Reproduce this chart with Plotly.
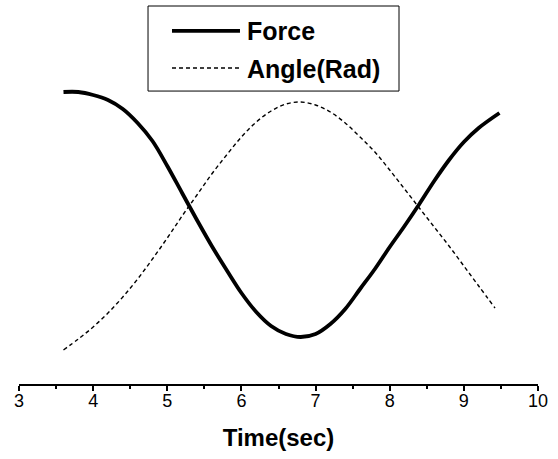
import plotly.graph_objects as go

# Data (arbitrary y units; no y axis shown)
force_time = [3.60, 3.80, 4.00, 4.20, 4.40, 4.60, 4.80, 5.00, 5.20, 5.40, 5.60, 5.80,
              6.00, 6.20, 6.40, 6.60, 6.80, 7.00, 7.20, 7.40, 7.60, 7.80, 8.00, 8.20,
              8.40, 8.60, 8.80, 9.00, 9.20, 9.48]
force_vals = [2.92, 2.92, 2.89, 2.84, 2.75, 2.61, 2.43, 2.18, 1.91, 1.64, 1.38, 1.14,
              0.91, 0.72, 0.58, 0.50, 0.47, 0.50, 0.60, 0.75, 0.95, 1.15, 1.37, 1.58,
              1.80, 2.03, 2.24, 2.42, 2.56, 2.71]

angle_time = [3.60, 3.80, 4.00, 4.20, 4.40, 4.60, 4.80, 5.00, 5.20, 5.40, 5.60, 5.80,
              6.00, 6.20, 6.40, 6.60, 6.80, 7.00, 7.20, 7.40, 7.60, 7.80, 8.00, 8.20,
              8.40, 8.60, 8.80, 9.00, 9.20, 9.42]
angle_vals = [0.34, 0.45, 0.57, 0.71, 0.87, 1.05, 1.25, 1.46, 1.68, 1.89, 2.10, 2.29,
              2.47, 2.62, 2.73, 2.80, 2.82, 2.79, 2.72, 2.61, 2.47, 2.32, 2.14, 1.95,
              1.76, 1.57, 1.38, 1.18, 0.98, 0.76]

x_ticks = [3, 4, 5, 6, 7, 8, 9, 10]
series_names = ["Force", "Angle(Rad)"]

FONT = "Liberation Sans, Arial, Helvetica, sans-serif"

fig = go.Figure()
fig.add_trace(go.Scatter(x=force_time, y=force_vals, name=series_names[0], mode="lines",
                         line=dict(color="black", width=3.8, shape="spline", smoothing=1.0),
                         showlegend=False))
fig.add_trace(go.Scatter(x=angle_time, y=angle_vals, name=series_names[1], mode="lines",
                         line=dict(color="black", width=1.4, dash="4px,3px", shape="spline", smoothing=1.0),
                         showlegend=False))

# Manual legend (box, samples, labels) in paper coordinates
fig.add_shape(type="rect", xref="paper", yref="paper", x0=0.2486, x1=0.7322, y0=0.775, y1=1.0,
              line=dict(color="black", width=1), fillcolor="white", layer="above")
fig.add_shape(type="line", xref="paper", yref="paper", x0=0.2948, x1=0.4258, y0=0.934, y1=0.934,
              line=dict(color="black", width=3.8), layer="above")
fig.add_shape(type="line", xref="paper", yref="paper", x0=0.2948, x1=0.4258, y0=0.836, y1=0.836,
              line=dict(color="black", width=1.4, dash="4px,3px"), layer="above")
for label, yy in zip(series_names, [0.934, 0.833]):
    fig.add_annotation(xref="paper", yref="paper", x=0.4355, y=yy, text=label, showarrow=False,
                       xanchor="left", yanchor="middle",
                       font=dict(family=FONT, size=25, color="black", weight="bold"))

fig.update_layout(
    width=558, height=459,
    margin=dict(l=19, r=20, t=6, b=75),
    paper_bgcolor="white", plot_bgcolor="white",
    font=dict(family=FONT, color="black"),
    xaxis=dict(range=[3, 10], tickvals=x_ticks, ticktext=[str(v) for v in x_ticks],
               showline=True, linecolor="black", linewidth=2,
               ticks="outside", ticklen=5, tickwidth=2, tickcolor="black",
               minor=dict(ticks="outside", ticklen=3, tickwidth=2, tickcolor="black", dtick=0.5, showgrid=False),
               showgrid=False, zeroline=False,
               ticklabelstandoff=-6,
               tickfont=dict(family=FONT, size=18, color="black"),
               title=dict(text="Time(sec)", standoff=20,
                          font=dict(family=FONT, size=24, color="black", weight="bold"))),
    yaxis=dict(range=[0, 3.78], visible=False, showgrid=False, zeroline=False),
)

fig.write_html("out.html")
